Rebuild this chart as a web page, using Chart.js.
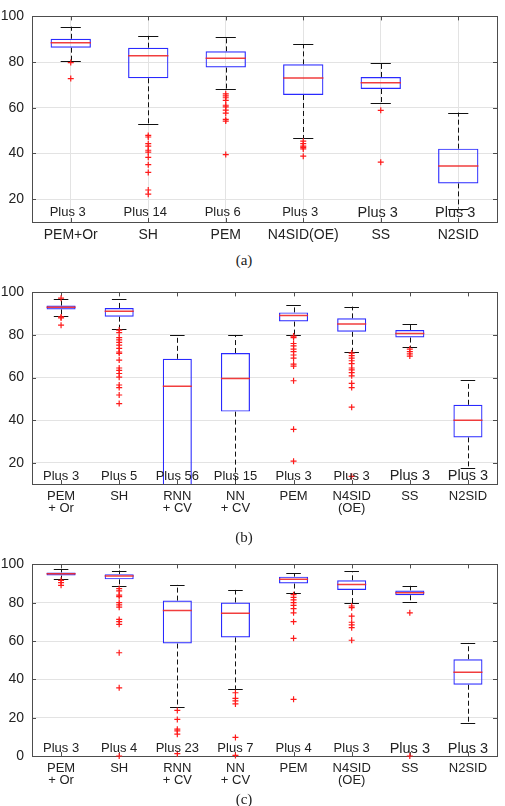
<!DOCTYPE html>
<html>
<head>
<meta charset="utf-8">
<script src="https://cdn.jsdelivr.net/npm/chart.js@4.4.0/dist/chart.umd.min.js"></script>
<style>
	body { margin: 0; background: #fff; width: 505px; height: 806px; position: relative; overflow: hidden; }
	canvas { position: absolute; left: 0; }
	.cap { position: absolute; font-family: "Liberation Serif", serif; font-size: 15px; line-height: 17px; color: #222; transform: translateX(-50%); }
</style>
</head>
<body>
<canvas id="chartA" width="505" height="250" style="top:0px"></canvas>
<div class="cap" style="left:244px; top:252px">(a)</div>
<canvas id="chartB" width="505" height="254" style="top:276px"></canvas>
<div class="cap" style="left:244px; top:529px">(b)</div>
<canvas id="chartC" width="505" height="250" style="top:548px"></canvas>
<div class="cap" style="left:244px; top:791px">(c)</div>
<script>
// panel (a)
var catsA = ["PEM+Or", "SH", "PEM", "N4SID(OE)", "SS", "N2SID"];
var tickLinesA = [["PEM+Or"], ["SH"], ["PEM"], ["N4SID(OE)"], ["SS"], ["N2SID"]];
var loA = [80.3, 53.1, 68.2, 46.7, 61.9, 15.9];
var q1A = [86.3, 72.9, 77.6, 65.6, 68.2, 26.9];
var medA = [88.5, 82.8, 81.7, 73.0, 71.0, 34.5];
var q3A = [90.2, 86.3, 84.7, 79.0, 73.5, 42.1];
var hiA = [95.5, 91.5, 91.0, 87.8, 79.8, 57.9];
var outA = [
	[79.8, 72.8],
	[47.9, 47.2, 44.3, 43.2, 41.4, 40.6, 38.3, 35.1, 31.7, 24.0, 22.2],
	[66.1, 65.2, 64.4, 63.2, 61.1, 60.4, 59.0, 57.7, 54.9, 54.2, 39.5],
	[45.4, 44.3, 43.2, 42.7, 42.0, 38.8],
	[58.9, 36.2],
	[]
];
var plusA = [3, 14, 6, 3, 3, 3];
var yTicksA = [20, 40, 60, 80, 100];

// panel (b)
var catsB = ["PEM+Or", "SH", "RNN+CV", "NN+CV", "PEM", "N4SID(OE)", "SS", "N2SID"];
var tickLinesB = [["PEM", "+ Or"], ["SH"], ["RNN", "+ CV"], ["NN", "+ CV"], ["PEM"], ["N4SID", "(OE)"], ["SS"], ["N2SID"]];
var loB = [88.9, 82.7, 0, 0, 80.1, 72.2, 74.2, 17.7];
var q1B = [92.0, 88.6, 3, 44.0, 86.3, 81.5, 78.8, 31.9];
var medB = [93.0, 91.2, 55.9, 59.6, 89.2, 85.1, 80.7, 40.0];
var q3B = [93.8, 92.7, 68.8, 71.5, 90.6, 87.8, 82.3, 47.2];
var hiB = [96.7, 96.7, 80.0, 80.0, 94.2, 93.3, 85.1, 58.7];
var outB = [
	[97.3, 88.5, 88.0, 84.6],
	[82.3, 81.1, 78.8, 77.7, 76.5, 75.2, 73.7, 72.0, 71.4, 68.2, 64.5, 63.4, 61.9, 60.2, 56.5, 55.3, 51.8, 47.8],
	[],
	[],
	[79.5, 78.8, 76.0, 74.9, 73.4, 72.2, 70.6, 69.1, 66.3, 65.4, 58.5, 35.7, 20.7],
	[71.5, 70.3, 69.1, 67.9, 66.5, 64.5, 63.6, 62.3, 60.8, 57.3, 55.3, 46.1, 13.6],
	[73.4, 72.2, 71.1, 70.1],
	[]
];
var plusB = [3, 5, 56, 15, 3, 3, 3, 3];
var yTicksB = [20, 40, 60, 80, 100];

// panel (c)
var catsC = catsB;
var tickLinesC = tickLinesB;
var loC = [92.2, 88.5, 25.5, 35.0, 84.9, 79.6, 80.6, 17.0];
var q1C = [94.2, 92.2, 58.7, 61.9, 90.0, 86.6, 83.9, 37.2];
var medC = [95.1, 93.9, 75.9, 74.5, 92.3, 89.5, 85.2, 43.7];
var q3C = [95.8, 94.9, 81.1, 80.1, 93.6, 91.7, 86.4, 50.5];
var hiC = [97.5, 96.8, 89.5, 86.7, 95.3, 96.4, 88.8, 59.0];
var outC = [
	[91.7, 90.5, 89.1],
	[87.4, 86.2, 84.0, 83.2, 80.0, 78.9, 77.7, 71.3, 70.1, 68.7, 53.9, 35.6, 0],
	[23.8, 19.1, 14.0, 13.1, 11.4, 1.2],
	[33.0, 30.1, 28.8, 27.2, 9.7, 0.3],
	[84.2, 82.8, 81.5, 80.1, 78.6, 76.9, 74.7, 70.1, 61.4, 29.6],
	[78.3, 77.4, 73.0, 69.8, 68.4, 67.0, 60.4],
	[74.7, 0],
	[]
];
var plusC = [3, 4, 23, 7, 4, 3, 3, 3];
var yTicksC = [0, 20, 40, 60, 80, 100];

var textColor = "#222";
var gridColor = "#e3e3e3";
var frameColor = "#4d4d4d";
var boxBlue = "#2a2aff";
var medRed = "rgba(240,40,40,0.9)";
var outRed = "#ff1a1a";

function crisp(v) {
	return Math.round(v) + 0.5;
}

function makeDecor(cfg) {
	return {
		id: "boxDecor",
		beforeDatasetsDraw: function (chart) {
			var ctx = chart.ctx;
			var area = chart.chartArea;
			var y = chart.scales.y;
			var x = chart.scales.x;
			var bars = chart.getDatasetMeta(0).data;

			// frame + inward ticks
			ctx.save();
			ctx.strokeStyle = frameColor;
			ctx.lineWidth = 1;
			ctx.strokeRect(crisp(area.left), crisp(area.top), Math.round(area.right - area.left), Math.round(area.bottom - area.top));
			ctx.beginPath();
			y.ticks.forEach(function (t) {
				var py = crisp(y.getPixelForValue(t.value));
				ctx.moveTo(area.left, py);
				ctx.lineTo(area.left + 4, py);
				ctx.moveTo(area.right, py);
				ctx.lineTo(area.right - 4, py);
			});
			cfg.cats.forEach(function (c, i) {
				var px = crisp(x.getPixelForValue(i));
				ctx.moveTo(px, area.bottom);
				ctx.lineTo(px, area.bottom - 4);
				ctx.moveTo(px, area.top);
				ctx.lineTo(px, area.top + 4);
			});
			ctx.stroke();
			ctx.restore();

			// whiskers
			ctx.save();
			ctx.beginPath();
			ctx.rect(area.left, area.top, area.right - area.left, area.bottom - area.top);
			ctx.clip();
			ctx.strokeStyle = "#111";
			ctx.lineWidth = 1;
			bars.forEach(function (bar, i) {
				var px = crisp(bar.x);
				var half = bar.width / 4;
				ctx.setLineDash([5, 3]);
				ctx.beginPath();
				ctx.moveTo(px, y.getPixelForValue(cfg.q3[i]));
				ctx.lineTo(px, y.getPixelForValue(cfg.hi[i]));
				ctx.moveTo(px, y.getPixelForValue(cfg.q1[i]));
				ctx.lineTo(px, y.getPixelForValue(cfg.lo[i]));
				ctx.stroke();
				ctx.setLineDash([]);
				ctx.beginPath();
				var yh = crisp(y.getPixelForValue(cfg.hi[i]));
				var yl = crisp(y.getPixelForValue(cfg.lo[i]));
				ctx.moveTo(bar.x - half, yh);
				ctx.lineTo(bar.x + half, yh);
				ctx.moveTo(bar.x - half, yl);
				ctx.lineTo(bar.x + half, yl);
				ctx.stroke();
			});
			ctx.restore();
		},
		afterDatasetDraw: function (chart, args) {
			if (args.index !== 0) return;
			var ctx = chart.ctx;
			var area = chart.chartArea;
			var y = chart.scales.y;
			var bars = chart.getDatasetMeta(0).data;
			ctx.save();
			ctx.beginPath();
			ctx.rect(area.left, area.top, area.right - area.left, area.bottom - area.top);
			ctx.clip();
			ctx.strokeStyle = medRed;
			ctx.lineWidth = 1.5;
			ctx.beginPath();
			bars.forEach(function (bar, i) {
				var py = y.getPixelForValue(cfg.med[i]);
				ctx.moveTo(bar.x - bar.width / 2, py);
				ctx.lineTo(bar.x + bar.width / 2, py);
			});
			ctx.stroke();
			ctx.restore();
		},
		afterDatasetsDraw: function (chart) {
			var ctx = chart.ctx;
			var area = chart.chartArea;
			var x = chart.scales.x;
			ctx.save();
			ctx.fillStyle = textColor;
			ctx.textAlign = "center";
			ctx.textBaseline = "middle";
			cfg.plus.forEach(function (n, i) {
				var size = i >= cfg.bigFrom ? cfg.plusBig : cfg.plusSmall;
				ctx.font = size + "px 'Liberation Sans', Arial, sans-serif";
				ctx.fillText("Plus " + n, x.getPixelForValue(i) + cfg.plusShift, area.bottom - cfg.plusOffset);
			});
			ctx.restore();
		}
	};
}

function makePanel(id, cfg) {
	var outliers = [];
	cfg.out.forEach(function (list, i) {
		list.forEach(function (v) {
			outliers.push({ x: cfg.cats[i], y: v });
		});
	});

	return new Chart(document.getElementById(id).getContext("2d"), {
		type: "bar",
		data: {
			labels: cfg.cats,
			datasets: [
				{
					type: "bar",
					order: 1,
					data: cfg.q1.map(function (v, i) { return [v, cfg.q3[i]]; }),
					backgroundColor: "rgba(0,0,0,0)",
					borderColor: boxBlue,
					borderWidth: 1.2,
					borderSkipped: false,
					barPercentage: cfg.barPct,
					categoryPercentage: 1
				},
				{
					type: "line",
					order: 0,
					data: outliers,
					showLine: false,
					pointStyle: "cross",
					pointRadius: 3,
					pointBorderWidth: 1.2,
					pointBorderColor: outRed,
					borderColor: outRed,
					clip: 8
				}
			]
		},
		options: {
			responsive: false,
			animation: false,
			devicePixelRatio: 1,
			layout: { padding: { top: cfg.padTop, right: 8, left: 0, bottom: 0 } },
			plugins: { legend: { display: false }, tooltip: { enabled: false } },
			scales: {
				x: {
					type: "category",
					offset: true,
					grid: { display: cfg.xGrid, color: gridColor, drawTicks: false, offset: false },
					border: { display: false },
					afterFit: function (s) { s.height = cfg.xAxisH; },
					ticks: {
						padding: cfg.xPad,
						color: textColor,
						maxRotation: 0,
						autoSkip: false,
						font: { family: "'Liberation Sans', Arial, sans-serif", size: cfg.xFont, lineHeight: cfg.xLine },
						callback: function (v, i) { return cfg.tickLines[i]; }
					}
				},
				y: {
					min: cfg.yMin,
					max: cfg.yMax,
					afterBuildTicks: function (s) {
						s.ticks = cfg.yTicks.map(function (v) { return { value: v }; });
					},
					afterFit: function (s) { s.width = 32; },
					grid: { color: gridColor, drawTicks: false },
					border: { display: false },
					ticks: {
						padding: 8,
						color: textColor,
						font: { family: "'Liberation Sans', Arial, sans-serif", size: 14 }
					}
				}
			}
		},
		plugins: [makeDecor(cfg)]
	});
}

document.addEventListener("DOMContentLoaded", function () {
	makePanel("chartA", {
		cats: catsA, tickLines: tickLinesA, lo: loA, q1: q1A, med: medA, q3: q3A, hi: hiA, out: outA, plus: plusA,
		yMin: 10, yMax: 100, yTicks: yTicksA, barPct: 0.52, padTop: 5, xAxisH: 28,
		xFont: 14, xLine: 1.2, xPad: 5, xGrid: true,
		plusSmall: 13, plusBig: 14.5, bigFrom: 4, plusOffset: 9.3, plusShift: -3
	});
	makePanel("chartB", {
		cats: catsB, tickLines: tickLinesB, lo: loB, q1: q1B, med: medB, q3: q3B, hi: hiB, out: outB, plus: plusB,
		yMin: 10, yMax: 100, yTicks: yTicksB, barPct: 0.5, padTop: 13, xAxisH: 46,
		xFont: 13, xLine: 0.95, xPad: 6, xGrid: false,
		plusSmall: 13, plusBig: 14.5, bigFrom: 6, plusOffset: 7.6, plusShift: 0
	});
	makePanel("chartC", {
		cats: catsC, tickLines: tickLinesC, lo: loC, q1: q1C, med: medC, q3: q3C, hi: hiC, out: outC, plus: plusC,
		yMin: 0, yMax: 100, yTicks: yTicksC, barPct: 0.5, padTop: 12, xAxisH: 42,
		xFont: 13, xLine: 0.95, xPad: 6, xGrid: false,
		plusSmall: 13, plusBig: 14.5, bigFrom: 6, plusOffset: 7.4, plusShift: 0
	});
});
</script>
</body>
</html>
